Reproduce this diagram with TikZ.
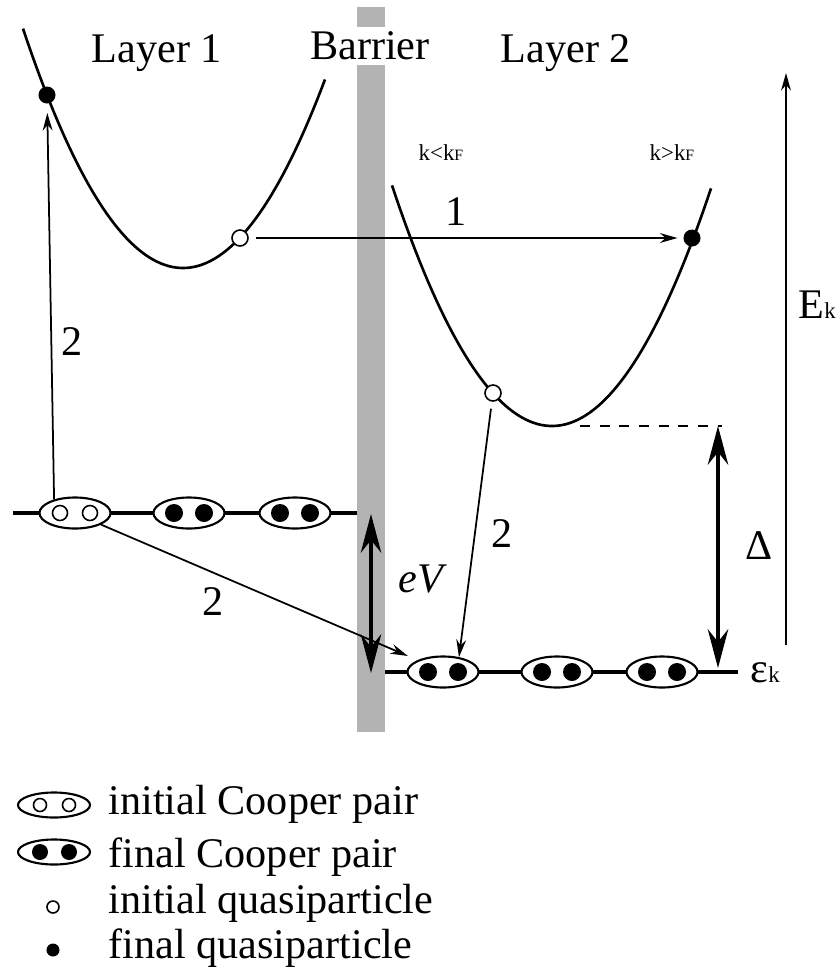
\documentclass[tikz,border=0pt]{standalone}
\usepackage{fontspec}
\setmainfont{Liberation Serif}
\usetikzlibrary{arrows.meta,shapes.geometric}
\definecolor{gris}{RGB}{179,179,179}
\tikzset{
  paire/.style={draw, ellipse, fill=white, line width=0.6pt, minimum width=0.71cm, minimum height=0.31cm, inner sep=0pt},
  qpini/.style={draw, circle, fill=white, line width=0.45pt, minimum size=0.16cm, inner sep=0pt},
  qpfin/.style={fill, circle, minimum size=0.17cm, inner sep=0pt},
  fleche/.style={line width=0.5pt, -{Stealth[length=5pt,width=2.8pt]}},
  grande/.style={line width=1.15pt, {Stealth[length=11pt,width=5.8pt]}-{Stealth[length=11pt,width=5.8pt]}},
  niveau/.style={line width=1.1pt},
  courbe/.style={line width=0.75pt},
  txt/.style={font=\fontsize{12}{14}\selectfont, inner sep=0pt}
}
\begin{document}
\begin{tikzpicture}[x=0.01cm, y=-0.01cm]
  \useasboundingbox (0,0) rectangle (838,972);

  % Barriere grise
  \fill[gris] (357,7) rectangle (385,732);

  % Niveaux des paires de Cooper
  \draw[niveau] (13,513) -- (357,513);
  \draw[niveau] (385,672) -- (738,672);

  % Paraboles des deux couches
  \draw[courbe] plot[domain=23:325, samples=80] (\x, {268-(0.0967*(\x-183))^2});
  \draw[courbe] plot[domain=392:711, samples=80] (\x, {426-(0.09695*(\x-552))^2});

  % Quasiparticules sur les courbes
  \node[qpfin] (qf1) at (47,95) {};
  \node[qpini] (qi1) at (240,238) {};
  \node[qpfin] (qf2) at (692,238) {};
  \node[qpini] (qi2) at (493,393) {};

  % Paires de la couche 1
  \node[paire] (pA) at (75,513) {};
  \draw[fill=white, line width=0.45pt] (60,513) circle (0.075cm) (90,513) circle (0.075cm);
  \foreach \x/\n in {189/pA2, 295/pA3} {
    \node[paire] (\n) at (\x,513) {};
    \fill (\x-15,513) circle (0.09cm) (\x+15,513) circle (0.09cm);
  }

  % Paires de la couche 2
  \foreach \x/\n in {443/pB, 557/pB2, 662/pB3} {
    \node[paire] (\n) at (\x,672) {};
    \fill (\x-15,672) circle (0.09cm) (\x+15,672) circle (0.09cm);
  }

  % Transitions
  \draw[fleche, shorten <=2pt, shorten >=1.5pt] (qi1) -- (qf2);
  \draw[fleche, shorten >=2.5pt] (pA.147) -- (qf1);
  \draw[fleche, shorten >=3pt] (pA.-24) -- (pB.155);
  \draw[fleche, shorten <=2pt] (qi2) -- (pB.43);

  % Gap et tension
  \coordinate (fond) at (552,426);
  \coordinate (gapH) at (718,426);
  \coordinate (gapB) at (718,668);
  \draw[line width=0.5pt, dash pattern=on 2.8pt off 2.8pt] ([xshift=0.28cm]fond) -- ([xshift=0.04cm]gapH);
  \draw[grande] (gapH) -- (gapB);
  \draw[grande] (371,514) -- (371,673);

  % Axe des energies
  \draw[fleche] (786,645) -- (786,73);

  % Textes
  \node[txt, anchor=base] (lay1) at (157,62) {Layer 1};
  \node[txt, fill=white, minimum height=0.38cm] (bar) at (370,46) {Barrier};
  \node[txt, anchor=base] (lay2) at (566,62) {Layer 2};
  \node[anchor=base, inner sep=0pt, font=\fontsize{6.5}{8}\selectfont] at (441,160) {k<k{\fontsize{4.5}{5}\selectfont F}};
  \node[anchor=base, inner sep=0pt, font=\fontsize{6.5}{8}\selectfont] at (672,160) {k>k{\fontsize{4.5}{5}\selectfont F}};
  \node[txt, anchor=base] at (456,225) {1};
  \node[txt, anchor=base] at (72,355) {2};
  \node[txt, anchor=base] at (213,615) {2};
  \node[txt, anchor=base] at (502,547) {2};
  \node[txt, anchor=base] at (423,592) {\textit{eV}};
  \node[txt, anchor=base] at (759,559) {Δ};
  \node[txt, anchor=base west] at (798,318) {E{\fontsize{6.5}{7}\selectfont k}};
  \node[txt, anchor=base west] at (750,682) {ε{\fontsize{6.5}{7}\selectfont k}};

  % Legende
  \node[paire, minimum width=0.72cm, minimum height=0.25cm] (legA) at (54,805) {};
  \draw[fill=white, line width=0.45pt] (40,805) circle (0.065cm) (69,805) circle (0.065cm);
  \node[paire, minimum width=0.72cm, minimum height=0.25cm] (legB) at (54,852) {};
  \fill (40,852) circle (0.08cm) (69,852) circle (0.08cm);
  \node[qpini, minimum size=0.12cm] (legC) at (53,907) {};
  \node[qpfin, minimum size=0.13cm] (legD) at (53,950) {};
  \node[txt, anchor=base west] at (108,814) {initial Cooper pair};
  \node[txt, anchor=base west] at (108,867) {final Cooper pair};
  \node[txt, anchor=base west] at (108,913) {initial quasiparticle};
  \node[txt, anchor=base west] at (108,958) {final quasiparticle};
\end{tikzpicture}
\end{document}
